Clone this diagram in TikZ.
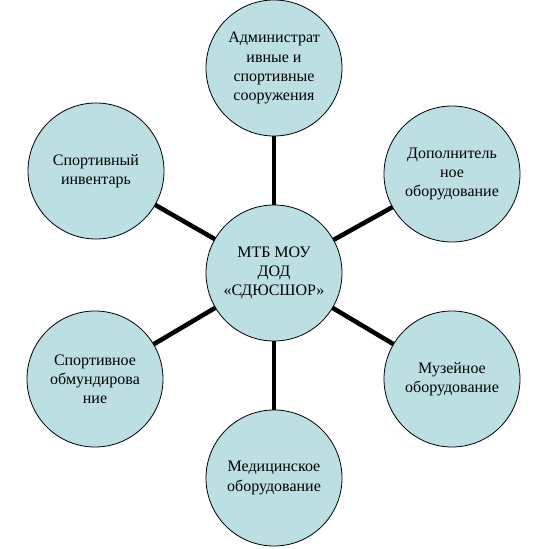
\documentclass[tikz,border=0pt]{standalone}
\usepackage{fontspec}
\setmainfont{Liberation Serif}
\usetikzlibrary{positioning,backgrounds}
\definecolor{ink}{HTML}{000000}
\definecolor{lightsea}{HTML}{BBDFE3}
\tikzset{
  disc/.style={circle,draw=ink,fill=lightsea,line width=0.6pt,minimum size=102pt,inner sep=0pt,align=center,font=\fontsize{12}{14.3}\selectfont},
  spoke/.style={draw=ink,line width=3.4pt}}
\begin{document}
\begin{tikzpicture}[x=0.75pt,y=-0.75pt]
  \useasboundingbox (0,0) rectangle (548,549);
  \node[disc] (mtb) at (274,273) {МТБ МОУ\\ДОД\\«СДЮСШОР»};
  \node[disc] (adm) at (274,68) {Администрат\\ивные и\\спортивные\\сооружения};
  \node[disc] (inv) at (96,171) {Спортивный\\инвентарь};
  \node[disc] (dop) at (452,174) {Дополнитель\\ное\\оборудование};
  \node[disc] (obm) at (95,379) {Спортивное\\обмундирова\\ние};
  \node[disc] (muz) at (452,379) {Музейное\\оборудование};
  \node[disc] (med) at (274,478) {Медицинское\\оборудование};
  \begin{scope}[on background layer]
    \foreach \n in {adm,inv,dop,obm,muz,med} \draw[spoke] (mtb.center) -- (\n.center);
  \end{scope}
\end{tikzpicture}
\end{document}
